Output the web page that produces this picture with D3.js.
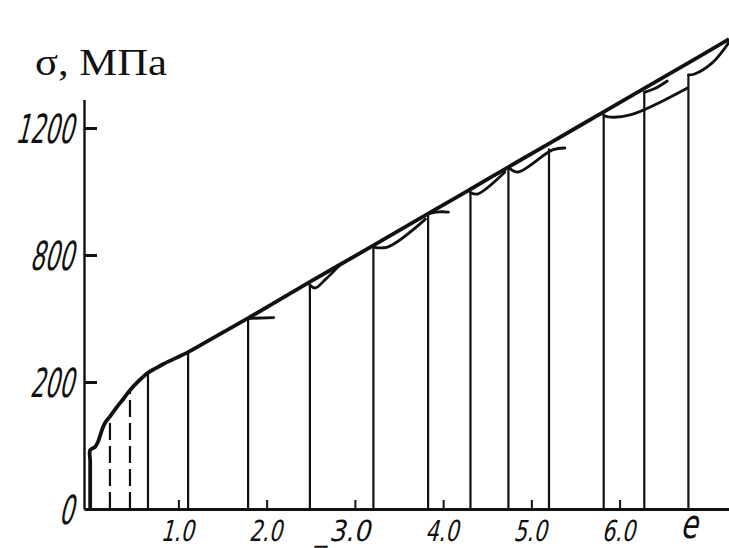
<!DOCTYPE html>
<html>
<head>
<meta charset="utf-8">
<script src="https://cdn.jsdelivr.net/npm/d3@7"></script>
<style>
  html, body { margin: 0; padding: 0; background: #fff; }
  svg { display: block; }
</style>
</head>
<body>
<svg id="chart" width="729" height="548"></svg>
<script>
// Monotonic loading curve: true strain e vs. flow stress σ (MPa)
const curveStrain = [0, 0, 0, 0.054, 0.088, 0.134, 0.168, 0.224, 0.30, 0.38, 0.451, 0.542, 0.655, 0.74, 0.825, 1.02, 1.11, 1.34, 1.79, 2.49, 3.21, 3.83, 4.31, 4.74, 5.20, 5.84, 6.28, 6.78, 7.24];
const curveStress = [0, 150, 186, 195, 211, 249, 271, 291, 320, 348, 374, 401, 429, 443, 456, 482, 494, 530, 601, 715, 830, 930, 1007, 1077, 1151, 1254, 1325, 1405, 1480];

// Unloading points (vertical drop lines down to σ = 0)
const unloadStrain = [0.224, 0.451, 0.655, 1.11, 1.79, 2.49, 3.21, 3.83, 4.31, 4.74, 5.20, 5.82, 6.28, 6.78];
const unloadStress = [291, 374, 429, 494, 600, 705, 824, 929, 997, 1077, 1135, 1240, 1312, 1367];
const unloadDashed = [true, true, false, false, false, false, false, false, false, false, false, false, false, false];

// Reloading branches after each unload, rejoining the main curve
const reloadStrain = [
  [1.79, 2.08],
  [2.49, 2.55, 2.67, 2.83],
  [3.21, 3.37, 3.80],
  [3.83, 3.95, 4.06],
  [4.31, 4.39, 4.70],
  [4.74, 4.84, 5.24, 5.38],
  [5.82, 5.87, 6.12, 6.77],
  [6.28, 6.40, 6.54],
  [6.78, 6.85, 7.05, 7.24]
];
const reloadStress = [
  [600, 603],
  [705, 696, 724, 768],
  [825, 825, 913],
  [930, 936, 935],
  [997, 992, 1061],
  [1077, 1061, 1131, 1137],
  [1240, 1235, 1241, 1326],
  [1312, 1324, 1348],
  [1367, 1370, 1405, 1470]
];

// Axis ticks and their printed labels
const strainTicks = [1, 2, 3, 4, 5, 6];
const strainTickLabels = ["1.0", "2.0", "_3.0", "4.0", "5.0", "6.0"];
const stressTicks = [0, 400, 800, 1200];
const stressTickLabels = ["0", "200", "800", "1200"];
const yTitle = "σ, МПа";
const xTitle = "e";
const xTitleStrain = 6.78;

const ink = "#111";
const svg = d3.select("#chart");

const x = d3.scaleLinear().domain([-0.07, 7.24]).range([84, 729]);
const y = d3.scaleLinear().domain([0, 1290]).range([509, 99.4]);

// Axes
const yAxis = d3.axisLeft(y)
  .tickValues(stressTicks.filter(v => v > 0))
  .tickSizeInner(-13).tickSizeOuter(0).tickFormat("");
const gy = svg.append("g").attr("transform", `translate(${x(-0.07)},0)`).call(yAxis);
gy.select(".domain").attr("stroke", ink).attr("stroke-width", 2.4);
gy.selectAll(".tick line").attr("stroke", ink).attr("stroke-width", 3);

const xAxis = d3.axisBottom(x)
  .tickValues(strainTicks)
  .tickSizeInner(-9).tickSizeOuter(0).tickFormat("");
const gx = svg.append("g").attr("transform", `translate(0,${y(0)})`).call(xAxis);
gx.select(".domain").attr("stroke", ink).attr("stroke-width", 3);
gx.selectAll(".tick line").attr("stroke", ink).attr("stroke-width", 2);

// Tick labels: narrow slanted drafting lettering
const labelFont = "'DejaVu Sans', sans-serif";
svg.append("g").selectAll("text")
  .data(stressTicks)
  .join("text")
  .attr("transform", d => `translate(73,${y(d) + 15}) skewX(-14)`)
  .attr("text-anchor", "end")
  .attr("font-family", labelFont)
  .attr("font-size", 40)
  .attr("fill", ink)
  .attr("textLength", (d, i) => 14.5 * stressTickLabels[i].length)
  .attr("lengthAdjust", "spacingAndGlyphs")
  .text((d, i) => stressTickLabels[i]);

svg.append("g").selectAll("text")
  .data(strainTicks)
  .join("text")
  .attr("transform", d => `translate(${x(d) + 15},541) skewX(-14)`)
  .attr("text-anchor", "end")
  .attr("font-family", labelFont)
  .attr("font-size", 29)
  .attr("fill", ink)
  .attr("textLength", (d, i) => strainTickLabels[i].startsWith("_") ? 54 : 33)
  .attr("lengthAdjust", "spacingAndGlyphs")
  .text((d, i) => strainTickLabels[i]);

svg.append("text")
  .attr("transform", `translate(${x(xTitleStrain)},538) skewX(-14)`)
  .attr("text-anchor", "middle")
  .attr("font-family", labelFont)
  .attr("font-size", 40)
  .attr("fill", ink)
  .attr("textLength", 17)
  .attr("lengthAdjust", "spacingAndGlyphs")
  .text(xTitle);

svg.append("text")
  .attr("x", 35).attr("y", 75)
  .attr("font-family", "'Liberation Serif', 'Times New Roman', serif")
  .attr("font-size", 37)
  .attr("fill", ink)
  .attr("textLength", 132)
  .attr("lengthAdjust", "spacingAndGlyphs")
  .text(yTitle);

// Unloading lines
svg.append("g").selectAll("line")
  .data(unloadStrain)
  .join("line")
  .attr("x1", d => x(d)).attr("x2", d => x(d))
  .attr("y1", y(0))
  .attr("y2", (d, i) => y(unloadStress[i]))
  .attr("stroke", ink)
  .attr("stroke-width", 2.2)
  .attr("stroke-dasharray", (d, i) => unloadDashed[i] ? "17,6" : null);

// Reloading branches
const branch = d3.line()
  .x(d => x(d[0])).y(d => y(d[1]))
  .curve(d3.curveCatmullRom.alpha(0.5));
svg.append("g").selectAll("path")
  .data(reloadStrain.map((s, i) => s.map((v, j) => [v, reloadStress[i][j]])))
  .join("path")
  .attr("d", branch)
  .attr("fill", "none")
  .attr("stroke", ink)
  .attr("stroke-width", 2.8)
  .attr("stroke-linejoin", "round")
  .attr("stroke-linecap", "round");

// Main loading curve
const mainLine = d3.line()
  .x(d => x(d[0])).y(d => y(d[1]))
  .curve(d3.curveCatmullRom.alpha(0.5));
svg.append("path")
  .datum(curveStrain.map((s, i) => [s, curveStress[i]]))
  .attr("d", mainLine)
  .attr("fill", "none")
  .attr("stroke", ink)
  .attr("stroke-width", 3.8)
  .attr("stroke-linejoin", "round");
</script>
</body>
</html>
